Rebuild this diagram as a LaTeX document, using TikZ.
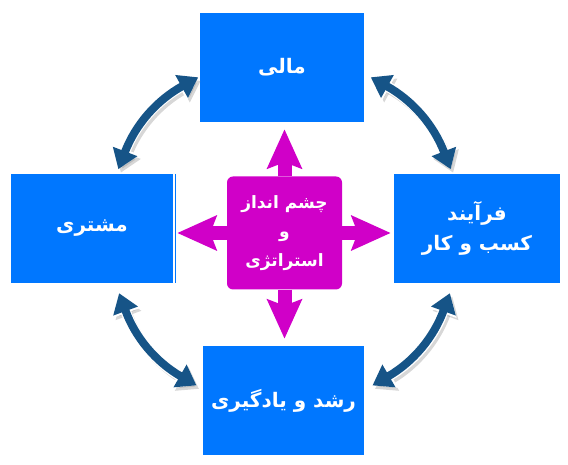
\documentclass[tikz,border=0pt]{standalone}
\usepackage{fontspec}
\usepackage{tikz}
\usetikzlibrary{arrows.meta}
\usetikzlibrary{calc}
\usepackage{xcolor}
\TeXXeTstate=1
\newfontfamily\farsifont[Script=Arabic]{DejaVu Sans}
\newcommand{\rtlline}[1]{\beginR #1\endR}

\definecolor{boxblue}{RGB}{0,119,255}
\definecolor{visionmag}{RGB}{208,0,200}
\definecolor{cycleblue}{RGB}{22,84,135}

\tikzset{
	perspective/.style={fill=boxblue,text=white,inner sep=0pt,minimum height=109pt,
		align=center,font=\farsifont\bfseries\fontsize{20}{30}\selectfont},
	visionbox/.style={fill=visionmag,text=white,rounded corners=6pt,inner sep=0pt,
		minimum width=115pt,minimum height=113pt,align=center,
		font=\farsifont\bfseries\fontsize{17}{29}\selectfont},
	pusharrow/.style={visionmag,line width=14pt,
		-{Stealth[length=39pt,width=34pt,inset=6pt]}},
	cycleshadow/.style={black!45,opacity=0.35,line width=9pt,
		{Triangle[length=20pt,width=26pt]}-{Triangle[length=20pt,width=26pt]}},
	cycleedge/.style={white,line width=10.5pt,
		{Triangle[length=21pt,width=28pt]}-{Triangle[length=21pt,width=28pt]}},
	cyclearrow/.style={cycleblue,line width=8pt,
		{Triangle[length=19pt,width=25pt]}-{Triangle[length=19pt,width=25pt]}}
}

\begin{document}
\begin{tikzpicture}[x=1pt,y=1pt]
	\useasboundingbox (0,0) rectangle (568,465);
	
	% Perspectives
	\node[perspective,minimum width=164pt] (mali) at (282,397.5) {\rtlline{مالی}};
	\node[perspective,minimum width=162pt] (moshtari) at (92,236.5) {\rtlline{مشتری}};
	\node[perspective,minimum width=166pt] (farayand) at (477,236.5)
		{\rtlline{فرآیند}\\\rtlline{کسب و کار}};
	\node[perspective,minimum width=161pt] (roshd) at (283.5,64.5)
		{\rtlline{رشد و یادگیری}};
	\draw[boxblue,line width=0.8pt] ($(moshtari.north east)+(2,0)$) -- ($(moshtari.south east)+(2,0)$);
	
	% Vision and strategy
	\node[visionbox] (vision) at (284.5,232)
		{\rtlline{چشم انداز}\\\rtlline{و}\\\rtlline{استراتژی}};
	
	% Vision arrows
	\draw[pusharrow,shorten >=7pt] (vision.north) -- (vision.north |- mali.south);
	\draw[pusharrow,shorten >=7pt] (vision.south) -- (vision.south |- roshd.north);
	\draw[pusharrow,shorten >=4pt] (vision.west) -- (vision.west -| moshtari.east);
	\draw[pusharrow,shorten >=3pt] (vision.east) -- (vision.east -| farayand.west);
	
	% Cycle ends
	\coordinate (tlA) at ($(vision.center)+(119:178pt)$);
	\coordinate (tlB) at ($(vision.center)+(159:178pt)$);
	\coordinate (trA) at ($(vision.center)+(61:178pt)$);
	\coordinate (trB) at ($(vision.center)+(21:178pt)$);
	\coordinate (blA) at ($(vision.center)+(200:176pt)$);
	\coordinate (blB) at ($(vision.center)+(240:176pt)$);
	\coordinate (brA) at ($(vision.center)+(340:176pt)$);
	\coordinate (brB) at ($(vision.center)+(300:176pt)$);
	
	% Cycle arrows
	\foreach \a/\b in {tlA/tlB,blA/blB}{
		\draw[cycleshadow,transform canvas={shift={(2.5pt,-3.5pt)}}] (\a) to[bend right=20] (\b);
		\draw[cycleedge] (\a) to[bend right=20] (\b);
		\draw[cyclearrow] (\a) to[bend right=20] (\b);
	}
	\foreach \a/\b in {trA/trB,brA/brB}{
		\draw[cycleshadow,transform canvas={shift={(2.5pt,-3.5pt)}}] (\a) to[bend left=20] (\b);
		\draw[cycleedge] (\a) to[bend left=20] (\b);
		\draw[cyclearrow] (\a) to[bend left=20] (\b);
	}
	
\end{tikzpicture}
\end{document}
